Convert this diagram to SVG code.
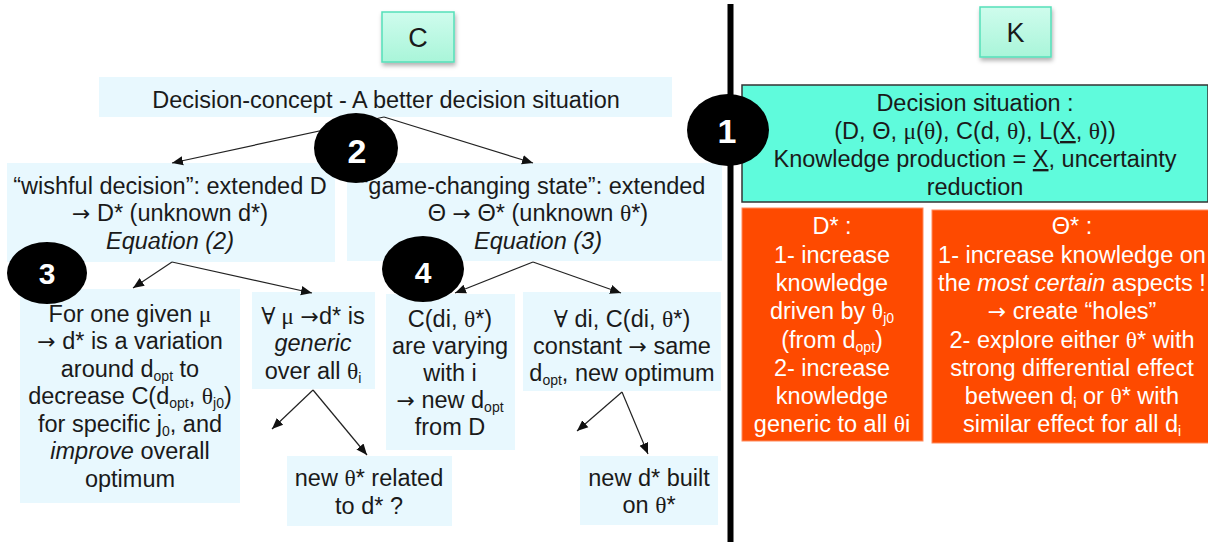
<svg xmlns="http://www.w3.org/2000/svg" width="1208" height="542" viewBox="0 0 1208 542">
<defs>
<linearGradient id="mint" x1="0" y1="0" x2="0" y2="1">
<stop offset="0" stop-color="#cffced"/>
<stop offset="1" stop-color="#a9f5d9"/>
</linearGradient>
<filter id="sh" x="-20%" y="-20%" width="150%" height="160%">
<feDropShadow dx="1" dy="3" stdDeviation="2" flood-color="#000" flood-opacity="0.3"/>
</filter>
<marker id="ah" viewBox="0 0 10 10" refX="10" refY="5" markerWidth="11" markerHeight="11" markerUnits="userSpaceOnUse" orient="auto">
<path d="M0,0.8 L10,5 L0,9.2 z" fill="#111"/>
</marker>
</defs>
<style>
text{font-family:"Liberation Sans",Arial,sans-serif;font-size:23.5px;fill:#1a1a1a;text-anchor:middle}
.w{fill:#ffffff}
.g{font-family:"Liberation Serif","DejaVu Serif",serif}
.a{font-family:"DejaVu Sans",sans-serif;font-size:22px}
.i{font-style:italic}
.s{font-size:14px}
.lb{fill:#e8f8fe}
.hdr{fill:url(#mint);stroke:#55dfb9;stroke-width:1.5}
.or{fill:#fe4a00;stroke:#ff8a5c;stroke-width:1}
.cn line{stroke:#222;stroke-width:1.2;marker-end:url(#ah)}
.num{font-size:34px;font-weight:bold;fill:#fff}
</style>

<rect x="0" y="0" width="1208" height="542" fill="#ffffff"/>

<!-- divider -->
<rect x="727.5" y="4" width="6" height="538" fill="#000"/>

<g id="hdrC">
<rect class="hdr" x="382" y="12" width="72" height="50" filter="url(#sh)"/>
<text x="418" y="47" style="font-size:27px">C</text>
</g>
<g id="hdrK">
<rect class="hdr" x="980" y="7" width="71" height="50" filter="url(#sh)"/>
<text x="1015.5" y="42" style="font-size:27px">K</text>
</g>

<g id="concept">
<rect class="lb" x="99" y="77" width="573" height="40"/>
<text x="386" y="108">Decision-concept - A better decision situation</text>
</g>

<g id="wishful">
<rect class="lb" x="7" y="163" width="328" height="99"/>
<text x="170" y="194">“wishful decision”: extended D</text>
<text x="170" y="221"><tspan class="a">→</tspan>  D* (unknown d*)</text>
<text x="170" y="249" class="i">Equation (2)</text>
</g>

<g id="gamechanging">
<rect class="lb" x="347" y="163" width="375" height="98"/>
<text x="533" y="194">“game-changing state”: extended</text>
<text x="538" y="221">Θ <tspan class="a">→</tspan> Θ* (unknown <tspan class="g">θ</tspan>*)</text>
<text x="538" y="249" class="i">Equation (3)</text>
</g>

<g id="n3a">
<rect class="lb" x="20" y="289" width="220" height="214"/>
<text x="130" y="322">For one given <tspan class="g">μ</tspan></text>
<text x="130" y="349"><tspan class="a">→</tspan> d* is a variation</text>
<text x="130" y="377">around d<tspan class="s" dy="4">opt</tspan><tspan dy="-4"> to</tspan></text>
<text x="130" y="404">decrease C(d<tspan class="s" dy="4">opt</tspan><tspan dy="-4">, </tspan><tspan class="g">θ</tspan><tspan class="s" dy="4">j0</tspan><tspan dy="-4">)</tspan></text>
<text x="130" y="432">for specific j<tspan class="s" dy="4">0</tspan><tspan dy="-4">, and</tspan></text>
<text x="130" y="459"><tspan class="i">improve</tspan> overall</text>
<text x="130" y="487">optimum</text>
</g>

<g id="n3b">
<rect class="lb" x="252" y="292" width="123" height="97"/>
<text x="313" y="324"><tspan class="g">∀ μ</tspan> <tspan class="a">→</tspan>d* is</text>
<text x="313" y="351" class="i">generic</text>
<text x="313" y="379">over all <tspan class="g">θ</tspan><tspan class="s" dy="4">i</tspan></text>
</g>

<g id="n3c">
<rect class="lb" x="287" y="456" width="165" height="70"/>
<text x="369" y="486">new <tspan class="g">θ</tspan>* related</text>
<text x="369" y="514">to d* ?</text>
</g>

<g id="n4a">
<rect class="lb" x="386" y="294" width="129" height="156"/>
<text x="450" y="327">C(di, <tspan class="g">θ</tspan>*)</text>
<text x="450" y="354">are varying</text>
<text x="450" y="381">with i</text>
<text x="450" y="408"><tspan class="a">→</tspan> new d<tspan class="s" dy="4">opt</tspan></text>
<text x="450" y="435">from D</text>
</g>

<g id="n4b">
<rect class="lb" x="523" y="292" width="198" height="99"/>
<text x="622" y="327"><tspan class="g">∀</tspan> di, C(di, <tspan class="g">θ</tspan>*)</text>
<text x="622" y="354">constant <tspan class="a">→</tspan> same</text>
<text x="622" y="381">d<tspan class="s" dy="4">opt</tspan><tspan dy="-4">, new optimum</tspan></text>
</g>

<g id="n4c">
<rect class="lb" x="580" y="456" width="138" height="69"/>
<text x="649" y="486">new d* built</text>
<text x="649" y="513">on <tspan class="g">θ</tspan>*</text>
</g>

<g id="situation">
<rect x="742" y="85" width="466" height="117" fill="#5ffbdc" stroke="#333" stroke-width="1.5"/>
<text x="975" y="111">Decision situation :</text>
<text x="975" y="139">(D, Θ, <tspan class="g">μ</tspan>(<tspan class="g">θ</tspan>), C(d, <tspan class="g">θ</tspan>), L(<tspan text-decoration="underline">X</tspan>, <tspan class="g">θ</tspan>))</text>
<text x="975" y="167">Knowledge production = <tspan text-decoration="underline">X</tspan>, uncertainty</text>
<text x="975" y="195">reduction</text>
</g>

<g id="dstar">
<rect class="or" x="742" y="208" width="181" height="233"/>
<text class="w" x="832" y="234">D* :</text>
<text class="w" x="832" y="263">1- increase</text>
<text class="w" x="832" y="291">knowledge</text>
<text class="w" x="832" y="319">driven by <tspan class="g w">θ</tspan><tspan class="s w" dy="4">j0</tspan></text>
<text class="w" x="832" y="348">(from d<tspan class="s w" dy="4">opt</tspan><tspan class="w" dy="-4">)</tspan></text>
<text class="w" x="832" y="376">2- increase</text>
<text class="w" x="832" y="404">knowledge</text>
<text class="w" x="832" y="432">generic to all <tspan class="g w">θ</tspan>i</text>
</g>

<g id="thetastar">
<rect class="or" x="932" y="210" width="280" height="233"/>
<text class="w" x="1072" y="234">Θ* :</text>
<text class="w" x="1072" y="263">1- increase knowledge on</text>
<text class="w" x="1072" y="291">the <tspan class="i w">most certain</tspan> aspects !</text>
<text class="w" x="1072" y="319"><tspan class="a w">→</tspan> create “holes”</text>
<text class="w" x="1072" y="348">2- explore either <tspan class="g w">θ</tspan>* with</text>
<text class="w" x="1072" y="376">strong differential effect</text>
<text class="w" x="1072" y="404">between d<tspan class="s w" dy="4">i</tspan><tspan class="w" dy="-4"> or </tspan><tspan class="g w">θ</tspan><tspan class="w">* with</tspan></text>
<text class="w" x="1072" y="432">similar effect for all d<tspan class="s w" dy="4">i</tspan></text>
</g>

<g id="connectors" class="cn">
<line x1="384" y1="117" x2="172" y2="163"/>
<line x1="384" y1="117" x2="533" y2="163"/>
<line x1="172" y1="262" x2="133" y2="288"/>
<line x1="172" y1="262" x2="312" y2="293"/>
<line x1="313" y1="390" x2="272" y2="429"/>
<line x1="313" y1="390" x2="367" y2="455"/>
<line x1="533" y1="262" x2="455" y2="293"/>
<line x1="533" y1="262" x2="621" y2="293"/>
<line x1="622" y1="392" x2="577" y2="431"/>
<line x1="622" y1="392" x2="648" y2="454"/>
</g>

<g id="badge1">
<ellipse cx="728" cy="130" rx="41" ry="36" fill="#000"/>
<text class="num" x="727" y="143">1</text>
</g>
<g id="badge2">
<ellipse cx="356" cy="148" rx="42" ry="35" fill="#000"/>
<text class="num" x="357" y="163">2</text>
</g>
<g id="badge3">
<ellipse cx="47" cy="273" rx="40" ry="31" fill="#000"/>
<text class="num" x="47" y="284" style="font-size:30px">3</text>
</g>
<g id="badge4">
<ellipse cx="423" cy="269" rx="41" ry="33" fill="#000"/>
<text class="num" x="423" y="283" style="font-size:30px">4</text>
</g>
</svg>
